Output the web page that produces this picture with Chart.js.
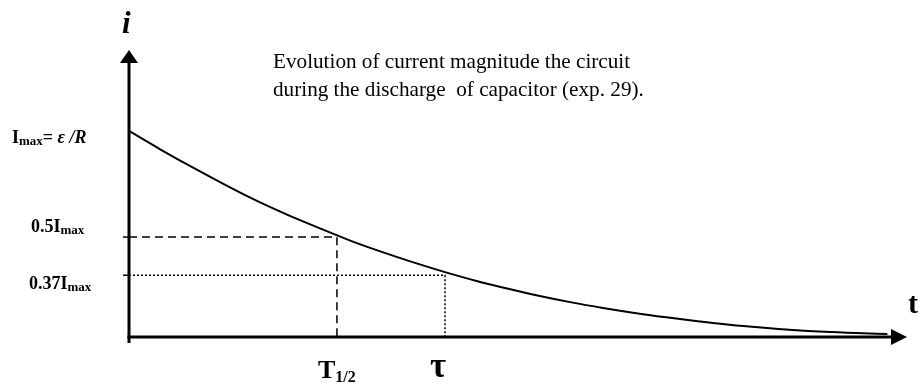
<!DOCTYPE html>
<html>
<head>
<meta charset="utf-8">
<script src="https://cdn.jsdelivr.net/npm/chart.js@4.4.0/dist/chart.umd.min.js"></script>
<style>
  html, body { margin: 0; padding: 0; background: #fff; }
  #wrap { width: 919px; height: 383px; }
</style>
</head>
<body>
<div id="wrap"><canvas id="chart"></canvas></div>
<script>
// discharge current: time in units of tau, current in units of Imax
var timeValues = [0, 0.1, 0.2, 0.3, 0.4, 0.5, 0.6, 0.7, 0.8, 0.9, 1.0, 1.1, 1.2, 1.3, 1.4, 1.5, 1.6, 1.7, 1.8, 1.9, 2.0, 2.1, 2.2, 2.3, 2.4];
var currentValues = [1.000, 0.910, 0.824, 0.742, 0.664, 0.594, 0.530, 0.468, 0.413, 0.362, 0.315, 0.272, 0.234, 0.199, 0.168, 0.141, 0.117, 0.096, 0.077, 0.060, 0.046, 0.034, 0.025, 0.019, 0.015];

// guide levels
var halfTime = 0.658;
var halfLevel = 0.485;
var tau = 1.0;
var tauLevel = 0.30;

var titleLines = [
  "Evolution of current magnitude the circuit",
  "during the discharge  of capacitor (exp. 29).",
];

var SERIF = '"Liberation Serif", "Times New Roman", serif';

function drawParts(ctx, x, y, parts) {
  parts.forEach(function (p) {
    ctx.font = p[1];
    ctx.fillText(p[0], x, y + (p[2] || 0));
    x += ctx.measureText(p[0]).width;
  });
}

var axesArrows = {
  id: "axesArrows",
  beforeDatasetsDraw(chart) {
    var ctx = chart.ctx;
    var xs = chart.scales.x, ys = chart.scales.y;
    var x0 = xs.getPixelForValue(0), y0 = ys.getPixelForValue(0);
    var top = chart.chartArea.top, right = chart.chartArea.right;
    ctx.save();
    ctx.strokeStyle = "#000";
    ctx.fillStyle = "#000";
    ctx.lineWidth = 3;
    ctx.beginPath();
    ctx.moveTo(x0, y0 + 6);
    ctx.lineTo(x0, top + 8);
    ctx.stroke();
    ctx.beginPath();
    ctx.moveTo(x0, top);
    ctx.lineTo(x0 - 9, top + 13);
    ctx.lineTo(x0 + 9, top + 13);
    ctx.closePath();
    ctx.fill();
    ctx.beginPath();
    ctx.moveTo(x0 - 1.5, y0);
    ctx.lineTo(right - 10, y0);
    ctx.stroke();
    ctx.beginPath();
    ctx.moveTo(right, y0);
    ctx.lineTo(right - 16, y0 - 8);
    ctx.lineTo(right - 16, y0 + 8);
    ctx.closePath();
    ctx.fill();
    // small ticks left of the axis at the guide levels
    ctx.lineWidth = 1.5;
    [halfLevel, tauLevel].forEach(function (v) {
      var py = ys.getPixelForValue(v);
      ctx.beginPath();
      ctx.moveTo(x0 - 6, py);
      ctx.lineTo(x0, py);
      ctx.stroke();
    });
    ctx.restore();
  },
  afterDraw(chart) {
    var ctx = chart.ctx;
    var xs = chart.scales.x, ys = chart.scales.y;
    var x0 = xs.getPixelForValue(0), y0 = ys.getPixelForValue(0);
    ctx.save();
    ctx.fillStyle = "#000";
    ctx.textBaseline = "alphabetic";

    ctx.font = "21.2px " + SERIF;
    ctx.fillText(titleLines[0], 273, 68);
    ctx.fillText(titleLines[1], 273, 96);

    ctx.font = "italic bold 31px " + SERIF;
    ctx.fillText("i", x0 - 7, 33);
    ctx.font = "bold 30px " + SERIF;
    ctx.fillText("t", chart.chartArea.right + 1, 313);

    var big = "bold 18px " + SERIF, sub = "bold 13px " + SERIF;
    drawParts(ctx, 12, ys.getPixelForValue(1) + 12, [
      ["I", big], ["max", sub, 2], ["=", big], [" ε /R", "italic bold 18px " + SERIF],
    ]);
    drawParts(ctx, 31, ys.getPixelForValue(halfLevel) - 5, [
      ["0.5I", big], ["max", sub, 2],
    ]);
    drawParts(ctx, 29, ys.getPixelForValue(tauLevel) + 14, [
      ["0.37I", big], ["max", sub, 2],
    ]);

    drawParts(ctx, xs.getPixelForValue(halfTime) - 19, y0 + 41, [
      ["T", "bold 26px " + SERIF], ["1/2", "bold 16px " + SERIF, 4],
    ]);
    ctx.font = "bold 35px " + SERIF;
    ctx.fillText("τ", xs.getPixelForValue(tau) - 15, y0 + 40);
    ctx.restore();
  },
};

new Chart(document.getElementById("chart"), {
  type: "line",
  data: {
    datasets: [
      {
        data: timeValues.map((t, i) => ({ x: t, y: currentValues[i] })),
        borderColor: "#000",
        borderWidth: 2,
        pointRadius: 0,
        cubicInterpolationMode: "monotone",
        clip: false,
      },
      {
        data: [
          { x: 0, y: halfLevel },
          { x: halfTime, y: halfLevel },
          { x: halfTime, y: 0 },
        ],
        borderColor: "#000",
        borderWidth: 1.5,
        borderDash: [8, 5],
        pointRadius: 0,
      },
      {
        data: [
          { x: 0, y: tauLevel },
          { x: tau, y: tauLevel },
          { x: tau, y: 0 },
        ],
        borderColor: "#000",
        borderWidth: 1.5,
        borderDash: [2, 2],
        pointRadius: 0,
      },
    ],
  },
  options: {
    responsive: true,
    maintainAspectRatio: false,
    animation: false,
    layout: {
      padding: { left: 129, right: 12, top: 50, bottom: 46 },
    },
    scales: {
      x: { type: "linear", min: 0, max: 2.462, display: false },
      y: { min: 0, max: 1.393, display: false },
    },
    plugins: {
      legend: { display: false },
      tooltip: { enabled: false },
    },
  },
  plugins: [axesArrows],
});
</script>
</body>
</html>
